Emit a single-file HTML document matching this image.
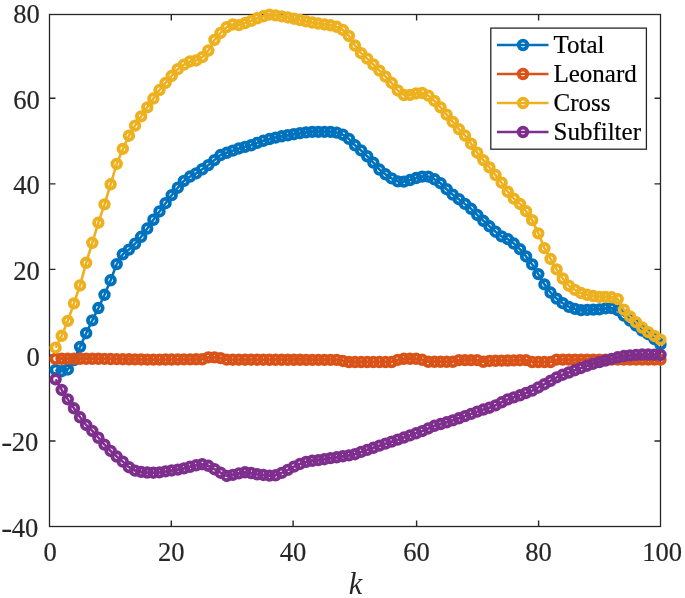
<!DOCTYPE html>
<html><head><meta charset="utf-8"><style>
html,body{margin:0;padding:0;background:#fff;}
svg{display:block;}
</style></head><body>
<svg width="685" height="598" viewBox="0 0 685 598">
<rect width="685" height="598" fill="#fff"/>
<path d="M171.30,526.5V520.5M171.30,14.5V20.5M293.10,526.5V520.5M293.10,14.5V20.5M416.60,526.5V520.5M416.60,14.5V20.5M538.60,526.5V520.5M538.60,14.5V20.5M49.5,98.20H55.5M660.5,98.20H654.5M49.5,183.90H55.5M660.5,183.90H654.5M49.5,269.40H55.5M660.5,269.40H654.5M49.5,355.10H55.5M660.5,355.10H654.5M49.5,441.00H55.5M660.5,441.00H654.5" stroke="#262626" stroke-width="1.4" fill="none"/>
<rect x="49.5" y="14.5" width="611.0" height="512.0" fill="none" stroke="#262626" stroke-width="1.3"/>
<polyline points="55.61,369.91 61.72,371.19 67.83,369.49 73.94,360.10 80.05,346.87 86.16,333.22 92.27,320.42 98.38,308.05 104.49,294.82 110.60,280.31 116.71,264.10 122.82,254.29 128.93,249.59 135.04,243.75 141.15,236.76 147.26,228.52 153.37,219.75 159.48,211.43 165.59,203.23 171.70,195.17 177.81,187.70 183.92,180.83 190.03,176.53 196.14,173.33 202.25,169.25 208.36,165.08 214.47,160.10 220.58,155.07 226.69,152.82 232.80,150.61 238.91,148.47 245.02,146.84 251.13,145.25 257.24,142.85 263.35,140.77 269.46,139.01 275.57,137.59 281.68,136.31 287.79,135.25 293.90,134.18 300.01,133.11 306.12,132.36 312.23,131.83 318.34,131.83 324.45,131.83 330.56,131.91 336.67,132.66 342.78,134.69 348.89,138.87 355.00,145.27 361.11,150.48 367.22,156.25 373.33,162.61 379.44,169.54 385.55,174.31 391.66,178.39 397.77,181.40 403.88,181.65 409.99,180.05 416.10,178.04 422.21,176.63 428.32,176.63 434.43,179.25 440.54,183.21 446.65,189.23 452.76,194.66 458.87,199.19 464.98,203.91 471.09,208.82 477.20,214.95 483.31,220.78 489.42,226.30 495.53,231.73 501.64,236.34 507.75,239.10 513.86,243.57 519.97,249.17 526.08,256.45 532.19,264.42 538.30,274.09 544.41,284.40 550.52,292.52 556.63,298.66 562.74,303.14 568.85,306.87 574.96,308.90 581.07,310.13 587.18,309.88 593.29,309.62 599.40,309.35 605.51,308.42 611.62,308.05 617.73,310.18 623.84,315.51 629.95,320.52 636.06,325.65 642.17,330.50 648.28,334.23 654.39,339.04 660.50,344.31" fill="none" stroke="#0072BD" stroke-width="2.6" stroke-linejoin="round"/>
<g fill="none" stroke="#0072BD" stroke-width="3.8"><circle cx="55.61" cy="369.91" r="4.3"/><circle cx="61.72" cy="371.19" r="4.3"/><circle cx="67.83" cy="369.49" r="4.3"/><circle cx="73.94" cy="360.10" r="4.3"/><circle cx="80.05" cy="346.87" r="4.3"/><circle cx="86.16" cy="333.22" r="4.3"/><circle cx="92.27" cy="320.42" r="4.3"/><circle cx="98.38" cy="308.05" r="4.3"/><circle cx="104.49" cy="294.82" r="4.3"/><circle cx="110.60" cy="280.31" r="4.3"/><circle cx="116.71" cy="264.10" r="4.3"/><circle cx="122.82" cy="254.29" r="4.3"/><circle cx="128.93" cy="249.59" r="4.3"/><circle cx="135.04" cy="243.75" r="4.3"/><circle cx="141.15" cy="236.76" r="4.3"/><circle cx="147.26" cy="228.52" r="4.3"/><circle cx="153.37" cy="219.75" r="4.3"/><circle cx="159.48" cy="211.43" r="4.3"/><circle cx="165.59" cy="203.23" r="4.3"/><circle cx="171.70" cy="195.17" r="4.3"/><circle cx="177.81" cy="187.70" r="4.3"/><circle cx="183.92" cy="180.83" r="4.3"/><circle cx="190.03" cy="176.53" r="4.3"/><circle cx="196.14" cy="173.33" r="4.3"/><circle cx="202.25" cy="169.25" r="4.3"/><circle cx="208.36" cy="165.08" r="4.3"/><circle cx="214.47" cy="160.10" r="4.3"/><circle cx="220.58" cy="155.07" r="4.3"/><circle cx="226.69" cy="152.82" r="4.3"/><circle cx="232.80" cy="150.61" r="4.3"/><circle cx="238.91" cy="148.47" r="4.3"/><circle cx="245.02" cy="146.84" r="4.3"/><circle cx="251.13" cy="145.25" r="4.3"/><circle cx="257.24" cy="142.85" r="4.3"/><circle cx="263.35" cy="140.77" r="4.3"/><circle cx="269.46" cy="139.01" r="4.3"/><circle cx="275.57" cy="137.59" r="4.3"/><circle cx="281.68" cy="136.31" r="4.3"/><circle cx="287.79" cy="135.25" r="4.3"/><circle cx="293.90" cy="134.18" r="4.3"/><circle cx="300.01" cy="133.11" r="4.3"/><circle cx="306.12" cy="132.36" r="4.3"/><circle cx="312.23" cy="131.83" r="4.3"/><circle cx="318.34" cy="131.83" r="4.3"/><circle cx="324.45" cy="131.83" r="4.3"/><circle cx="330.56" cy="131.91" r="4.3"/><circle cx="336.67" cy="132.66" r="4.3"/><circle cx="342.78" cy="134.69" r="4.3"/><circle cx="348.89" cy="138.87" r="4.3"/><circle cx="355.00" cy="145.27" r="4.3"/><circle cx="361.11" cy="150.48" r="4.3"/><circle cx="367.22" cy="156.25" r="4.3"/><circle cx="373.33" cy="162.61" r="4.3"/><circle cx="379.44" cy="169.54" r="4.3"/><circle cx="385.55" cy="174.31" r="4.3"/><circle cx="391.66" cy="178.39" r="4.3"/><circle cx="397.77" cy="181.40" r="4.3"/><circle cx="403.88" cy="181.65" r="4.3"/><circle cx="409.99" cy="180.05" r="4.3"/><circle cx="416.10" cy="178.04" r="4.3"/><circle cx="422.21" cy="176.63" r="4.3"/><circle cx="428.32" cy="176.63" r="4.3"/><circle cx="434.43" cy="179.25" r="4.3"/><circle cx="440.54" cy="183.21" r="4.3"/><circle cx="446.65" cy="189.23" r="4.3"/><circle cx="452.76" cy="194.66" r="4.3"/><circle cx="458.87" cy="199.19" r="4.3"/><circle cx="464.98" cy="203.91" r="4.3"/><circle cx="471.09" cy="208.82" r="4.3"/><circle cx="477.20" cy="214.95" r="4.3"/><circle cx="483.31" cy="220.78" r="4.3"/><circle cx="489.42" cy="226.30" r="4.3"/><circle cx="495.53" cy="231.73" r="4.3"/><circle cx="501.64" cy="236.34" r="4.3"/><circle cx="507.75" cy="239.10" r="4.3"/><circle cx="513.86" cy="243.57" r="4.3"/><circle cx="519.97" cy="249.17" r="4.3"/><circle cx="526.08" cy="256.45" r="4.3"/><circle cx="532.19" cy="264.42" r="4.3"/><circle cx="538.30" cy="274.09" r="4.3"/><circle cx="544.41" cy="284.40" r="4.3"/><circle cx="550.52" cy="292.52" r="4.3"/><circle cx="556.63" cy="298.66" r="4.3"/><circle cx="562.74" cy="303.14" r="4.3"/><circle cx="568.85" cy="306.87" r="4.3"/><circle cx="574.96" cy="308.90" r="4.3"/><circle cx="581.07" cy="310.13" r="4.3"/><circle cx="587.18" cy="309.88" r="4.3"/><circle cx="593.29" cy="309.62" r="4.3"/><circle cx="599.40" cy="309.35" r="4.3"/><circle cx="605.51" cy="308.42" r="4.3"/><circle cx="611.62" cy="308.05" r="4.3"/><circle cx="617.73" cy="310.18" r="4.3"/><circle cx="623.84" cy="315.51" r="4.3"/><circle cx="629.95" cy="320.52" r="4.3"/><circle cx="636.06" cy="325.65" r="4.3"/><circle cx="642.17" cy="330.50" r="4.3"/><circle cx="648.28" cy="334.23" r="4.3"/><circle cx="654.39" cy="339.04" r="4.3"/><circle cx="660.50" cy="344.31" r="4.3"/></g>
<polyline points="55.61,358.82 61.72,358.82 67.83,358.82 73.94,358.82 80.05,358.82 86.16,358.82 92.27,358.82 98.38,358.82 104.49,358.91 110.60,359.01 116.71,359.10 122.82,359.20 128.93,359.29 135.04,359.39 141.15,359.48 147.26,359.58 153.37,359.67 159.48,359.62 165.59,359.57 171.70,359.51 177.81,359.46 183.92,359.41 190.03,359.35 196.14,359.30 202.25,359.25 208.36,357.33 214.47,357.33 220.58,358.11 226.69,359.67 232.80,359.69 238.91,359.70 245.02,359.71 251.13,359.72 257.24,359.73 263.35,359.74 269.46,359.76 275.57,359.77 281.68,359.78 287.79,359.79 293.90,359.80 300.01,359.82 306.12,359.83 312.23,359.84 318.34,359.85 324.45,359.86 330.56,359.87 336.67,359.89 342.78,360.95 348.89,362.02 355.00,362.02 361.11,362.02 367.22,362.02 373.33,362.02 379.44,362.02 385.55,362.02 391.66,362.02 397.77,359.89 403.88,358.82 409.99,358.82 416.10,358.82 422.21,359.82 428.32,361.81 434.43,361.81 440.54,361.81 446.65,361.81 452.76,361.81 458.87,360.10 464.98,360.10 471.09,360.10 477.20,360.10 483.31,361.81 489.42,360.95 495.53,360.81 501.64,360.67 507.75,360.53 513.86,360.38 519.97,360.24 526.08,360.10 532.19,362.02 538.30,362.02 544.41,362.02 550.52,362.02 556.63,359.67 562.74,359.67 568.85,359.67 574.96,359.67 581.07,359.67 587.18,359.67 593.29,359.67 599.40,359.67 605.51,359.67 611.62,359.67 617.73,359.67 623.84,359.67 629.95,359.67 636.06,359.67 642.17,359.67 648.28,359.67 654.39,359.67 660.50,359.67" fill="none" stroke="#D95319" stroke-width="2.6" stroke-linejoin="round"/>
<g fill="none" stroke="#D95319" stroke-width="3.8"><circle cx="55.61" cy="358.82" r="4.3"/><circle cx="61.72" cy="358.82" r="4.3"/><circle cx="67.83" cy="358.82" r="4.3"/><circle cx="73.94" cy="358.82" r="4.3"/><circle cx="80.05" cy="358.82" r="4.3"/><circle cx="86.16" cy="358.82" r="4.3"/><circle cx="92.27" cy="358.82" r="4.3"/><circle cx="98.38" cy="358.82" r="4.3"/><circle cx="104.49" cy="358.91" r="4.3"/><circle cx="110.60" cy="359.01" r="4.3"/><circle cx="116.71" cy="359.10" r="4.3"/><circle cx="122.82" cy="359.20" r="4.3"/><circle cx="128.93" cy="359.29" r="4.3"/><circle cx="135.04" cy="359.39" r="4.3"/><circle cx="141.15" cy="359.48" r="4.3"/><circle cx="147.26" cy="359.58" r="4.3"/><circle cx="153.37" cy="359.67" r="4.3"/><circle cx="159.48" cy="359.62" r="4.3"/><circle cx="165.59" cy="359.57" r="4.3"/><circle cx="171.70" cy="359.51" r="4.3"/><circle cx="177.81" cy="359.46" r="4.3"/><circle cx="183.92" cy="359.41" r="4.3"/><circle cx="190.03" cy="359.35" r="4.3"/><circle cx="196.14" cy="359.30" r="4.3"/><circle cx="202.25" cy="359.25" r="4.3"/><circle cx="208.36" cy="357.33" r="4.3"/><circle cx="214.47" cy="357.33" r="4.3"/><circle cx="220.58" cy="358.11" r="4.3"/><circle cx="226.69" cy="359.67" r="4.3"/><circle cx="232.80" cy="359.69" r="4.3"/><circle cx="238.91" cy="359.70" r="4.3"/><circle cx="245.02" cy="359.71" r="4.3"/><circle cx="251.13" cy="359.72" r="4.3"/><circle cx="257.24" cy="359.73" r="4.3"/><circle cx="263.35" cy="359.74" r="4.3"/><circle cx="269.46" cy="359.76" r="4.3"/><circle cx="275.57" cy="359.77" r="4.3"/><circle cx="281.68" cy="359.78" r="4.3"/><circle cx="287.79" cy="359.79" r="4.3"/><circle cx="293.90" cy="359.80" r="4.3"/><circle cx="300.01" cy="359.82" r="4.3"/><circle cx="306.12" cy="359.83" r="4.3"/><circle cx="312.23" cy="359.84" r="4.3"/><circle cx="318.34" cy="359.85" r="4.3"/><circle cx="324.45" cy="359.86" r="4.3"/><circle cx="330.56" cy="359.87" r="4.3"/><circle cx="336.67" cy="359.89" r="4.3"/><circle cx="342.78" cy="360.95" r="4.3"/><circle cx="348.89" cy="362.02" r="4.3"/><circle cx="355.00" cy="362.02" r="4.3"/><circle cx="361.11" cy="362.02" r="4.3"/><circle cx="367.22" cy="362.02" r="4.3"/><circle cx="373.33" cy="362.02" r="4.3"/><circle cx="379.44" cy="362.02" r="4.3"/><circle cx="385.55" cy="362.02" r="4.3"/><circle cx="391.66" cy="362.02" r="4.3"/><circle cx="397.77" cy="359.89" r="4.3"/><circle cx="403.88" cy="358.82" r="4.3"/><circle cx="409.99" cy="358.82" r="4.3"/><circle cx="416.10" cy="358.82" r="4.3"/><circle cx="422.21" cy="359.82" r="4.3"/><circle cx="428.32" cy="361.81" r="4.3"/><circle cx="434.43" cy="361.81" r="4.3"/><circle cx="440.54" cy="361.81" r="4.3"/><circle cx="446.65" cy="361.81" r="4.3"/><circle cx="452.76" cy="361.81" r="4.3"/><circle cx="458.87" cy="360.10" r="4.3"/><circle cx="464.98" cy="360.10" r="4.3"/><circle cx="471.09" cy="360.10" r="4.3"/><circle cx="477.20" cy="360.10" r="4.3"/><circle cx="483.31" cy="361.81" r="4.3"/><circle cx="489.42" cy="360.95" r="4.3"/><circle cx="495.53" cy="360.81" r="4.3"/><circle cx="501.64" cy="360.67" r="4.3"/><circle cx="507.75" cy="360.53" r="4.3"/><circle cx="513.86" cy="360.38" r="4.3"/><circle cx="519.97" cy="360.24" r="4.3"/><circle cx="526.08" cy="360.10" r="4.3"/><circle cx="532.19" cy="362.02" r="4.3"/><circle cx="538.30" cy="362.02" r="4.3"/><circle cx="544.41" cy="362.02" r="4.3"/><circle cx="550.52" cy="362.02" r="4.3"/><circle cx="556.63" cy="359.67" r="4.3"/><circle cx="562.74" cy="359.67" r="4.3"/><circle cx="568.85" cy="359.67" r="4.3"/><circle cx="574.96" cy="359.67" r="4.3"/><circle cx="581.07" cy="359.67" r="4.3"/><circle cx="587.18" cy="359.67" r="4.3"/><circle cx="593.29" cy="359.67" r="4.3"/><circle cx="599.40" cy="359.67" r="4.3"/><circle cx="605.51" cy="359.67" r="4.3"/><circle cx="611.62" cy="359.67" r="4.3"/><circle cx="617.73" cy="359.67" r="4.3"/><circle cx="623.84" cy="359.67" r="4.3"/><circle cx="629.95" cy="359.67" r="4.3"/><circle cx="636.06" cy="359.67" r="4.3"/><circle cx="642.17" cy="359.67" r="4.3"/><circle cx="648.28" cy="359.67" r="4.3"/><circle cx="654.39" cy="359.67" r="4.3"/><circle cx="660.50" cy="359.67" r="4.3"/></g>
<polyline points="55.61,347.73 61.72,335.78 67.83,320.85 73.94,303.35 80.05,285.43 86.16,262.82 92.27,242.77 98.38,222.71 104.49,204.37 110.60,184.31 116.71,163.83 122.82,148.90 128.93,135.74 135.04,125.65 141.15,116.37 147.26,107.34 153.37,98.55 159.48,90.02 165.59,82.88 171.70,75.97 177.81,69.24 183.92,64.63 190.03,61.43 196.14,60.45 202.25,57.17 208.36,50.50 214.47,39.94 220.58,32.91 226.69,27.09 232.80,24.46 238.91,25.17 245.02,23.03 251.13,20.82 257.24,18.31 263.35,16.26 269.46,14.66 275.57,15.40 281.68,16.42 287.79,17.49 293.90,18.71 300.01,20.05 306.12,21.30 312.23,22.50 318.34,23.57 324.45,24.45 330.56,25.32 336.67,26.82 342.78,29.96 348.89,35.94 355.00,45.54 361.11,53.15 367.22,58.67 373.33,64.50 379.44,70.63 385.55,76.67 391.66,82.98 397.77,90.45 403.88,95.03 409.99,94.95 416.10,93.43 422.21,92.95 428.32,95.62 434.43,100.90 440.54,107.39 446.65,114.67 452.76,121.91 458.87,129.11 464.98,135.52 471.09,143.69 477.20,152.69 483.31,160.12 489.42,167.37 495.53,175.01 501.64,182.69 507.75,191.73 513.86,198.61 519.97,203.94 526.08,211.22 532.19,220.15 538.30,233.33 544.41,248.15 550.52,258.98 556.63,269.38 562.74,278.50 568.85,285.70 574.96,289.91 581.07,293.04 587.18,294.79 593.29,296.07 599.40,296.87 605.51,296.95 611.62,297.31 617.73,299.09 623.84,309.67 629.95,316.41 636.06,322.15 642.17,327.54 648.28,332.14 654.39,335.96 660.50,339.62" fill="none" stroke="#EDB120" stroke-width="2.6" stroke-linejoin="round"/>
<g fill="none" stroke="#EDB120" stroke-width="3.8"><circle cx="55.61" cy="347.73" r="4.3"/><circle cx="61.72" cy="335.78" r="4.3"/><circle cx="67.83" cy="320.85" r="4.3"/><circle cx="73.94" cy="303.35" r="4.3"/><circle cx="80.05" cy="285.43" r="4.3"/><circle cx="86.16" cy="262.82" r="4.3"/><circle cx="92.27" cy="242.77" r="4.3"/><circle cx="98.38" cy="222.71" r="4.3"/><circle cx="104.49" cy="204.37" r="4.3"/><circle cx="110.60" cy="184.31" r="4.3"/><circle cx="116.71" cy="163.83" r="4.3"/><circle cx="122.82" cy="148.90" r="4.3"/><circle cx="128.93" cy="135.74" r="4.3"/><circle cx="135.04" cy="125.65" r="4.3"/><circle cx="141.15" cy="116.37" r="4.3"/><circle cx="147.26" cy="107.34" r="4.3"/><circle cx="153.37" cy="98.55" r="4.3"/><circle cx="159.48" cy="90.02" r="4.3"/><circle cx="165.59" cy="82.88" r="4.3"/><circle cx="171.70" cy="75.97" r="4.3"/><circle cx="177.81" cy="69.24" r="4.3"/><circle cx="183.92" cy="64.63" r="4.3"/><circle cx="190.03" cy="61.43" r="4.3"/><circle cx="196.14" cy="60.45" r="4.3"/><circle cx="202.25" cy="57.17" r="4.3"/><circle cx="208.36" cy="50.50" r="4.3"/><circle cx="214.47" cy="39.94" r="4.3"/><circle cx="220.58" cy="32.91" r="4.3"/><circle cx="226.69" cy="27.09" r="4.3"/><circle cx="232.80" cy="24.46" r="4.3"/><circle cx="238.91" cy="25.17" r="4.3"/><circle cx="245.02" cy="23.03" r="4.3"/><circle cx="251.13" cy="20.82" r="4.3"/><circle cx="257.24" cy="18.31" r="4.3"/><circle cx="263.35" cy="16.26" r="4.3"/><circle cx="269.46" cy="14.66" r="4.3"/><circle cx="275.57" cy="15.40" r="4.3"/><circle cx="281.68" cy="16.42" r="4.3"/><circle cx="287.79" cy="17.49" r="4.3"/><circle cx="293.90" cy="18.71" r="4.3"/><circle cx="300.01" cy="20.05" r="4.3"/><circle cx="306.12" cy="21.30" r="4.3"/><circle cx="312.23" cy="22.50" r="4.3"/><circle cx="318.34" cy="23.57" r="4.3"/><circle cx="324.45" cy="24.45" r="4.3"/><circle cx="330.56" cy="25.32" r="4.3"/><circle cx="336.67" cy="26.82" r="4.3"/><circle cx="342.78" cy="29.96" r="4.3"/><circle cx="348.89" cy="35.94" r="4.3"/><circle cx="355.00" cy="45.54" r="4.3"/><circle cx="361.11" cy="53.15" r="4.3"/><circle cx="367.22" cy="58.67" r="4.3"/><circle cx="373.33" cy="64.50" r="4.3"/><circle cx="379.44" cy="70.63" r="4.3"/><circle cx="385.55" cy="76.67" r="4.3"/><circle cx="391.66" cy="82.98" r="4.3"/><circle cx="397.77" cy="90.45" r="4.3"/><circle cx="403.88" cy="95.03" r="4.3"/><circle cx="409.99" cy="94.95" r="4.3"/><circle cx="416.10" cy="93.43" r="4.3"/><circle cx="422.21" cy="92.95" r="4.3"/><circle cx="428.32" cy="95.62" r="4.3"/><circle cx="434.43" cy="100.90" r="4.3"/><circle cx="440.54" cy="107.39" r="4.3"/><circle cx="446.65" cy="114.67" r="4.3"/><circle cx="452.76" cy="121.91" r="4.3"/><circle cx="458.87" cy="129.11" r="4.3"/><circle cx="464.98" cy="135.52" r="4.3"/><circle cx="471.09" cy="143.69" r="4.3"/><circle cx="477.20" cy="152.69" r="4.3"/><circle cx="483.31" cy="160.12" r="4.3"/><circle cx="489.42" cy="167.37" r="4.3"/><circle cx="495.53" cy="175.01" r="4.3"/><circle cx="501.64" cy="182.69" r="4.3"/><circle cx="507.75" cy="191.73" r="4.3"/><circle cx="513.86" cy="198.61" r="4.3"/><circle cx="519.97" cy="203.94" r="4.3"/><circle cx="526.08" cy="211.22" r="4.3"/><circle cx="532.19" cy="220.15" r="4.3"/><circle cx="538.30" cy="233.33" r="4.3"/><circle cx="544.41" cy="248.15" r="4.3"/><circle cx="550.52" cy="258.98" r="4.3"/><circle cx="556.63" cy="269.38" r="4.3"/><circle cx="562.74" cy="278.50" r="4.3"/><circle cx="568.85" cy="285.70" r="4.3"/><circle cx="574.96" cy="289.91" r="4.3"/><circle cx="581.07" cy="293.04" r="4.3"/><circle cx="587.18" cy="294.79" r="4.3"/><circle cx="593.29" cy="296.07" r="4.3"/><circle cx="599.40" cy="296.87" r="4.3"/><circle cx="605.51" cy="296.95" r="4.3"/><circle cx="611.62" cy="297.31" r="4.3"/><circle cx="617.73" cy="299.09" r="4.3"/><circle cx="623.84" cy="309.67" r="4.3"/><circle cx="629.95" cy="316.41" r="4.3"/><circle cx="636.06" cy="322.15" r="4.3"/><circle cx="642.17" cy="327.54" r="4.3"/><circle cx="648.28" cy="332.14" r="4.3"/><circle cx="654.39" cy="335.96" r="4.3"/><circle cx="660.50" cy="339.62" r="4.3"/></g>
<polyline points="55.61,379.30 61.72,389.97 67.83,399.35 73.94,408.31 80.05,417.27 86.16,424.95 92.27,430.93 98.38,437.75 104.49,444.58 110.60,450.98 116.71,456.53 122.82,461.65 128.93,467.19 135.04,470.61 141.15,471.89 147.26,472.53 153.37,472.74 159.48,472.35 165.59,471.41 171.70,470.45 177.81,469.65 183.92,468.37 190.03,466.77 196.14,465.26 202.25,464.21 208.36,465.81 214.47,469.23 220.58,472.74 226.69,475.94 232.80,474.87 238.91,473.38 245.02,472.31 251.13,473.00 257.24,474.32 263.35,474.96 269.46,475.64 275.57,475.30 281.68,472.88 287.79,469.86 293.90,466.66 300.01,463.99 306.12,461.86 312.23,460.77 318.34,460.13 324.45,459.19 330.56,458.15 336.67,457.28 342.78,456.31 348.89,455.34 355.00,454.20 361.11,451.92 367.22,449.83 373.33,447.78 379.44,445.65 385.55,443.63 391.66,441.65 397.77,439.67 403.88,437.54 409.99,435.41 416.10,433.27 422.21,431.09 428.32,428.45 434.43,425.81 440.54,424.06 446.65,422.32 452.76,420.34 458.87,418.31 464.98,416.14 471.09,413.90 477.20,411.61 483.31,409.53 489.42,407.70 495.53,405.37 501.64,402.26 507.75,399.37 513.86,397.34 519.97,395.28 526.08,392.95 532.19,390.63 538.30,387.47 544.41,384.22 550.52,380.80 556.63,377.35 562.74,374.74 568.85,372.50 574.96,370.21 581.07,367.94 587.18,365.71 593.29,363.73 599.40,362.13 605.51,360.53 611.62,358.91 617.73,357.26 623.84,356.04 629.95,355.49 636.06,354.94 642.17,354.55 648.28,354.55 654.39,354.68 660.50,354.98" fill="none" stroke="#7E2F8E" stroke-width="2.6" stroke-linejoin="round"/>
<g fill="none" stroke="#7E2F8E" stroke-width="3.8"><circle cx="55.61" cy="379.30" r="4.3"/><circle cx="61.72" cy="389.97" r="4.3"/><circle cx="67.83" cy="399.35" r="4.3"/><circle cx="73.94" cy="408.31" r="4.3"/><circle cx="80.05" cy="417.27" r="4.3"/><circle cx="86.16" cy="424.95" r="4.3"/><circle cx="92.27" cy="430.93" r="4.3"/><circle cx="98.38" cy="437.75" r="4.3"/><circle cx="104.49" cy="444.58" r="4.3"/><circle cx="110.60" cy="450.98" r="4.3"/><circle cx="116.71" cy="456.53" r="4.3"/><circle cx="122.82" cy="461.65" r="4.3"/><circle cx="128.93" cy="467.19" r="4.3"/><circle cx="135.04" cy="470.61" r="4.3"/><circle cx="141.15" cy="471.89" r="4.3"/><circle cx="147.26" cy="472.53" r="4.3"/><circle cx="153.37" cy="472.74" r="4.3"/><circle cx="159.48" cy="472.35" r="4.3"/><circle cx="165.59" cy="471.41" r="4.3"/><circle cx="171.70" cy="470.45" r="4.3"/><circle cx="177.81" cy="469.65" r="4.3"/><circle cx="183.92" cy="468.37" r="4.3"/><circle cx="190.03" cy="466.77" r="4.3"/><circle cx="196.14" cy="465.26" r="4.3"/><circle cx="202.25" cy="464.21" r="4.3"/><circle cx="208.36" cy="465.81" r="4.3"/><circle cx="214.47" cy="469.23" r="4.3"/><circle cx="220.58" cy="472.74" r="4.3"/><circle cx="226.69" cy="475.94" r="4.3"/><circle cx="232.80" cy="474.87" r="4.3"/><circle cx="238.91" cy="473.38" r="4.3"/><circle cx="245.02" cy="472.31" r="4.3"/><circle cx="251.13" cy="473.00" r="4.3"/><circle cx="257.24" cy="474.32" r="4.3"/><circle cx="263.35" cy="474.96" r="4.3"/><circle cx="269.46" cy="475.64" r="4.3"/><circle cx="275.57" cy="475.30" r="4.3"/><circle cx="281.68" cy="472.88" r="4.3"/><circle cx="287.79" cy="469.86" r="4.3"/><circle cx="293.90" cy="466.66" r="4.3"/><circle cx="300.01" cy="463.99" r="4.3"/><circle cx="306.12" cy="461.86" r="4.3"/><circle cx="312.23" cy="460.77" r="4.3"/><circle cx="318.34" cy="460.13" r="4.3"/><circle cx="324.45" cy="459.19" r="4.3"/><circle cx="330.56" cy="458.15" r="4.3"/><circle cx="336.67" cy="457.28" r="4.3"/><circle cx="342.78" cy="456.31" r="4.3"/><circle cx="348.89" cy="455.34" r="4.3"/><circle cx="355.00" cy="454.20" r="4.3"/><circle cx="361.11" cy="451.92" r="4.3"/><circle cx="367.22" cy="449.83" r="4.3"/><circle cx="373.33" cy="447.78" r="4.3"/><circle cx="379.44" cy="445.65" r="4.3"/><circle cx="385.55" cy="443.63" r="4.3"/><circle cx="391.66" cy="441.65" r="4.3"/><circle cx="397.77" cy="439.67" r="4.3"/><circle cx="403.88" cy="437.54" r="4.3"/><circle cx="409.99" cy="435.41" r="4.3"/><circle cx="416.10" cy="433.27" r="4.3"/><circle cx="422.21" cy="431.09" r="4.3"/><circle cx="428.32" cy="428.45" r="4.3"/><circle cx="434.43" cy="425.81" r="4.3"/><circle cx="440.54" cy="424.06" r="4.3"/><circle cx="446.65" cy="422.32" r="4.3"/><circle cx="452.76" cy="420.34" r="4.3"/><circle cx="458.87" cy="418.31" r="4.3"/><circle cx="464.98" cy="416.14" r="4.3"/><circle cx="471.09" cy="413.90" r="4.3"/><circle cx="477.20" cy="411.61" r="4.3"/><circle cx="483.31" cy="409.53" r="4.3"/><circle cx="489.42" cy="407.70" r="4.3"/><circle cx="495.53" cy="405.37" r="4.3"/><circle cx="501.64" cy="402.26" r="4.3"/><circle cx="507.75" cy="399.37" r="4.3"/><circle cx="513.86" cy="397.34" r="4.3"/><circle cx="519.97" cy="395.28" r="4.3"/><circle cx="526.08" cy="392.95" r="4.3"/><circle cx="532.19" cy="390.63" r="4.3"/><circle cx="538.30" cy="387.47" r="4.3"/><circle cx="544.41" cy="384.22" r="4.3"/><circle cx="550.52" cy="380.80" r="4.3"/><circle cx="556.63" cy="377.35" r="4.3"/><circle cx="562.74" cy="374.74" r="4.3"/><circle cx="568.85" cy="372.50" r="4.3"/><circle cx="574.96" cy="370.21" r="4.3"/><circle cx="581.07" cy="367.94" r="4.3"/><circle cx="587.18" cy="365.71" r="4.3"/><circle cx="593.29" cy="363.73" r="4.3"/><circle cx="599.40" cy="362.13" r="4.3"/><circle cx="605.51" cy="360.53" r="4.3"/><circle cx="611.62" cy="358.91" r="4.3"/><circle cx="617.73" cy="357.26" r="4.3"/><circle cx="623.84" cy="356.04" r="4.3"/><circle cx="629.95" cy="355.49" r="4.3"/><circle cx="636.06" cy="354.94" r="4.3"/><circle cx="642.17" cy="354.55" r="4.3"/><circle cx="648.28" cy="354.55" r="4.3"/><circle cx="654.39" cy="354.68" r="4.3"/><circle cx="660.50" cy="354.98" r="4.3"/></g>
<text transform="translate(39.9 23.00) scale(0.95 1)" text-anchor="end" font-family="Liberation Serif, Times New Roman, serif" font-size="28" fill="#262626" stroke="#262626" stroke-width="0.2">80</text>
<text transform="translate(39.9 108.67) scale(0.95 1)" text-anchor="end" font-family="Liberation Serif, Times New Roman, serif" font-size="28" fill="#262626" stroke="#262626" stroke-width="0.2">60</text>
<text transform="translate(39.9 194.34) scale(0.95 1)" text-anchor="end" font-family="Liberation Serif, Times New Roman, serif" font-size="28" fill="#262626" stroke="#262626" stroke-width="0.2">40</text>
<text transform="translate(39.9 280.01) scale(0.95 1)" text-anchor="end" font-family="Liberation Serif, Times New Roman, serif" font-size="28" fill="#262626" stroke="#262626" stroke-width="0.2">20</text>
<text transform="translate(39.9 365.68) scale(0.95 1)" text-anchor="end" font-family="Liberation Serif, Times New Roman, serif" font-size="28" fill="#262626" stroke="#262626" stroke-width="0.2">0</text>
<text transform="translate(38.4 451.35) scale(0.95 1)" text-anchor="end" font-family="Liberation Serif, Times New Roman, serif" font-size="28" fill="#262626" stroke="#262626" stroke-width="0.2">20</text>
<text transform="translate(1.3 451.35) scale(1.17 1)" font-family="Liberation Serif, Times New Roman, serif" font-size="28" fill="#262626" stroke="#262626" stroke-width="0.2">-</text>
<text transform="translate(38.4 537.02) scale(0.95 1)" text-anchor="end" font-family="Liberation Serif, Times New Roman, serif" font-size="28" fill="#262626" stroke="#262626" stroke-width="0.2">40</text>
<text transform="translate(1.3 537.02) scale(1.17 1)" font-family="Liberation Serif, Times New Roman, serif" font-size="28" fill="#262626" stroke="#262626" stroke-width="0.2">-</text>
<text transform="translate(50.20 560.7) scale(0.95 1)" text-anchor="middle" font-family="Liberation Serif, Times New Roman, serif" font-size="28" fill="#262626" stroke="#262626" stroke-width="0.2">0</text>
<text transform="translate(171.30 560.7) scale(0.95 1)" text-anchor="middle" font-family="Liberation Serif, Times New Roman, serif" font-size="28" fill="#262626" stroke="#262626" stroke-width="0.2">20</text>
<text transform="translate(293.10 560.7) scale(0.95 1)" text-anchor="middle" font-family="Liberation Serif, Times New Roman, serif" font-size="28" fill="#262626" stroke="#262626" stroke-width="0.2">40</text>
<text transform="translate(416.60 560.7) scale(0.95 1)" text-anchor="middle" font-family="Liberation Serif, Times New Roman, serif" font-size="28" fill="#262626" stroke="#262626" stroke-width="0.2">60</text>
<text transform="translate(538.60 560.7) scale(0.95 1)" text-anchor="middle" font-family="Liberation Serif, Times New Roman, serif" font-size="28" fill="#262626" stroke="#262626" stroke-width="0.2">80</text>
<text transform="translate(662.20 560.7) scale(0.95 1)" text-anchor="middle" font-family="Liberation Serif, Times New Roman, serif" font-size="28" fill="#262626" stroke="#262626" stroke-width="0.2">100</text>
<text x="355.5" y="594.3" text-anchor="middle" font-family="Liberation Serif, serif" font-style="italic" font-size="30.5" fill="#262626">k</text>
<rect x="490.8" y="28.1" width="155.59999999999997" height="121.1" fill="#fff" stroke="#262626" stroke-width="1.3"/>
<line x1="497.0" y1="45.00" x2="548.5" y2="45.00" stroke="#0072BD" stroke-width="2.6"/>
<circle cx="523" cy="45.00" r="4.3" fill="none" stroke="#0072BD" stroke-width="3.8"/>
<text x="553.5" y="53.30" font-family="Liberation Serif, Times New Roman, serif" font-size="25" fill="#000" stroke="#000" stroke-width="0.2">Total</text>
<line x1="497.0" y1="74.00" x2="548.5" y2="74.00" stroke="#D95319" stroke-width="2.6"/>
<circle cx="523" cy="74.00" r="4.3" fill="none" stroke="#D95319" stroke-width="3.8"/>
<text x="553.5" y="82.30" font-family="Liberation Serif, Times New Roman, serif" font-size="25" fill="#000" stroke="#000" stroke-width="0.2">Leonard</text>
<line x1="497.0" y1="103.00" x2="548.5" y2="103.00" stroke="#EDB120" stroke-width="2.6"/>
<circle cx="523" cy="103.00" r="4.3" fill="none" stroke="#EDB120" stroke-width="3.8"/>
<text x="553.5" y="111.30" font-family="Liberation Serif, Times New Roman, serif" font-size="25" fill="#000" stroke="#000" stroke-width="0.2">Cross</text>
<line x1="497.0" y1="132.00" x2="548.5" y2="132.00" stroke="#7E2F8E" stroke-width="2.6"/>
<circle cx="523" cy="132.00" r="4.3" fill="none" stroke="#7E2F8E" stroke-width="3.8"/>
<text x="553.5" y="140.30" font-family="Liberation Serif, Times New Roman, serif" font-size="25" fill="#000" stroke="#000" stroke-width="0.2">Subfilter</text>
</svg>
</body></html>
